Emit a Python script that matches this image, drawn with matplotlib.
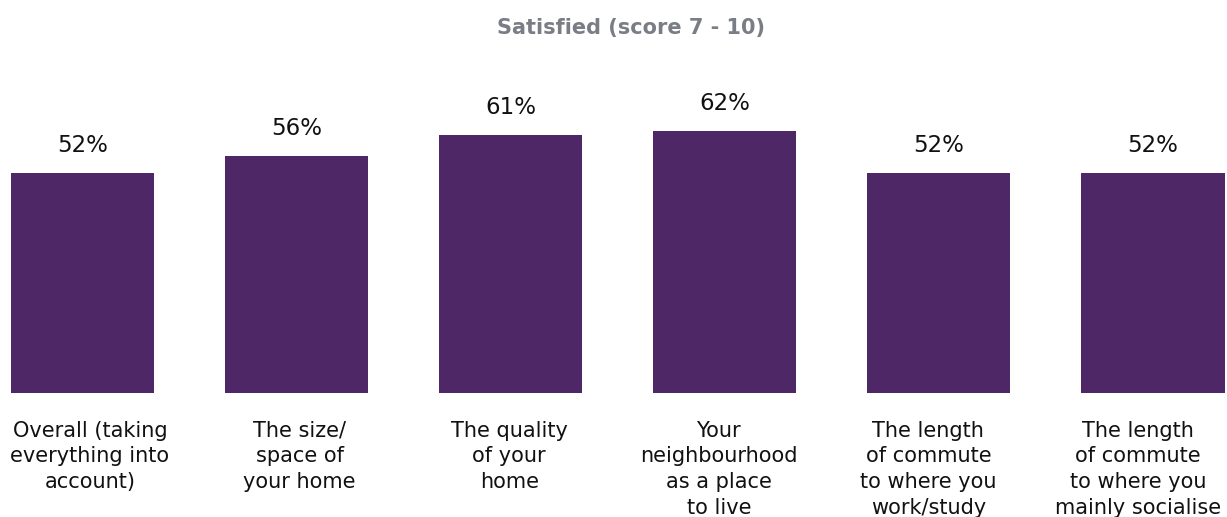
import matplotlib
matplotlib.use("Agg")
import matplotlib.pyplot as plt

categories = [
    "Overall (taking\neverything into\naccount)",
    "The size/\nspace of\nyour home",
    "The quality\nof your\nhome",
    "Your\nneighbourhood\nas a place\nto live",
    "The length\nof commute\nto where you\nwork/study",
    "The length\nof commute\nto where you\nmainly socialise",
]
values = [52, 56, 61, 62, 52, 52]
value_labels = ["52%", "56%", "61%", "62%", "52%", "52%"]
title = "Satisfied (score 7 - 10)"

plt.rcParams["font.family"] = ["DejaVu Sans"]

W, H, DPI = 1227, 517, 100
fig = plt.figure(figsize=(W / DPI, H / DPI), dpi=DPI)
fig.patch.set_facecolor("white")

base_px = 393          # baseline of bars, pixels from top
px_per_unit = 4.23     # pixels per percentage point
ax = fig.add_axes([0, (H - base_px) / H, 1, base_px / H])

x = list(range(len(values)))
ax.bar(x, values, width=0.668, color="#4e2767")

spacing = 214.1
first_center = 82.5
ax.set_xlim(-first_center / spacing, (W - first_center) / spacing)
ax.set_ylim(0, base_px / px_per_unit)

for xi, v, lab in zip(x, values, value_labels):
    ax.annotate(lab, (xi, v), xytext=(0, 15), textcoords="offset points",
                ha="center", va="baseline", fontsize=16.5, color="#111111")

# category labels sit in an evenly spaced row slightly narrower than the bars
label_start, label_step = 90.0, 209.6
for i, cat in enumerate(categories):
    xd = (label_start + label_step * i - first_center) / spacing
    ax.annotate(cat, (xd, 0), xytext=(0, -20), textcoords="offset points",
                ha="center", va="top", fontsize=15, color="#111111",
                linespacing=1.35, annotation_clip=False)

ax.set_xticks([])
ax.set_yticks([])
for s in ax.spines.values():
    s.set_visible(False)

fig.text(631 / W, 1 - 28 / H, title, ha="center", va="center",
         fontsize=15, fontweight="bold", color="#7b7d86")

fig.savefig("out.png", dpi=DPI)
